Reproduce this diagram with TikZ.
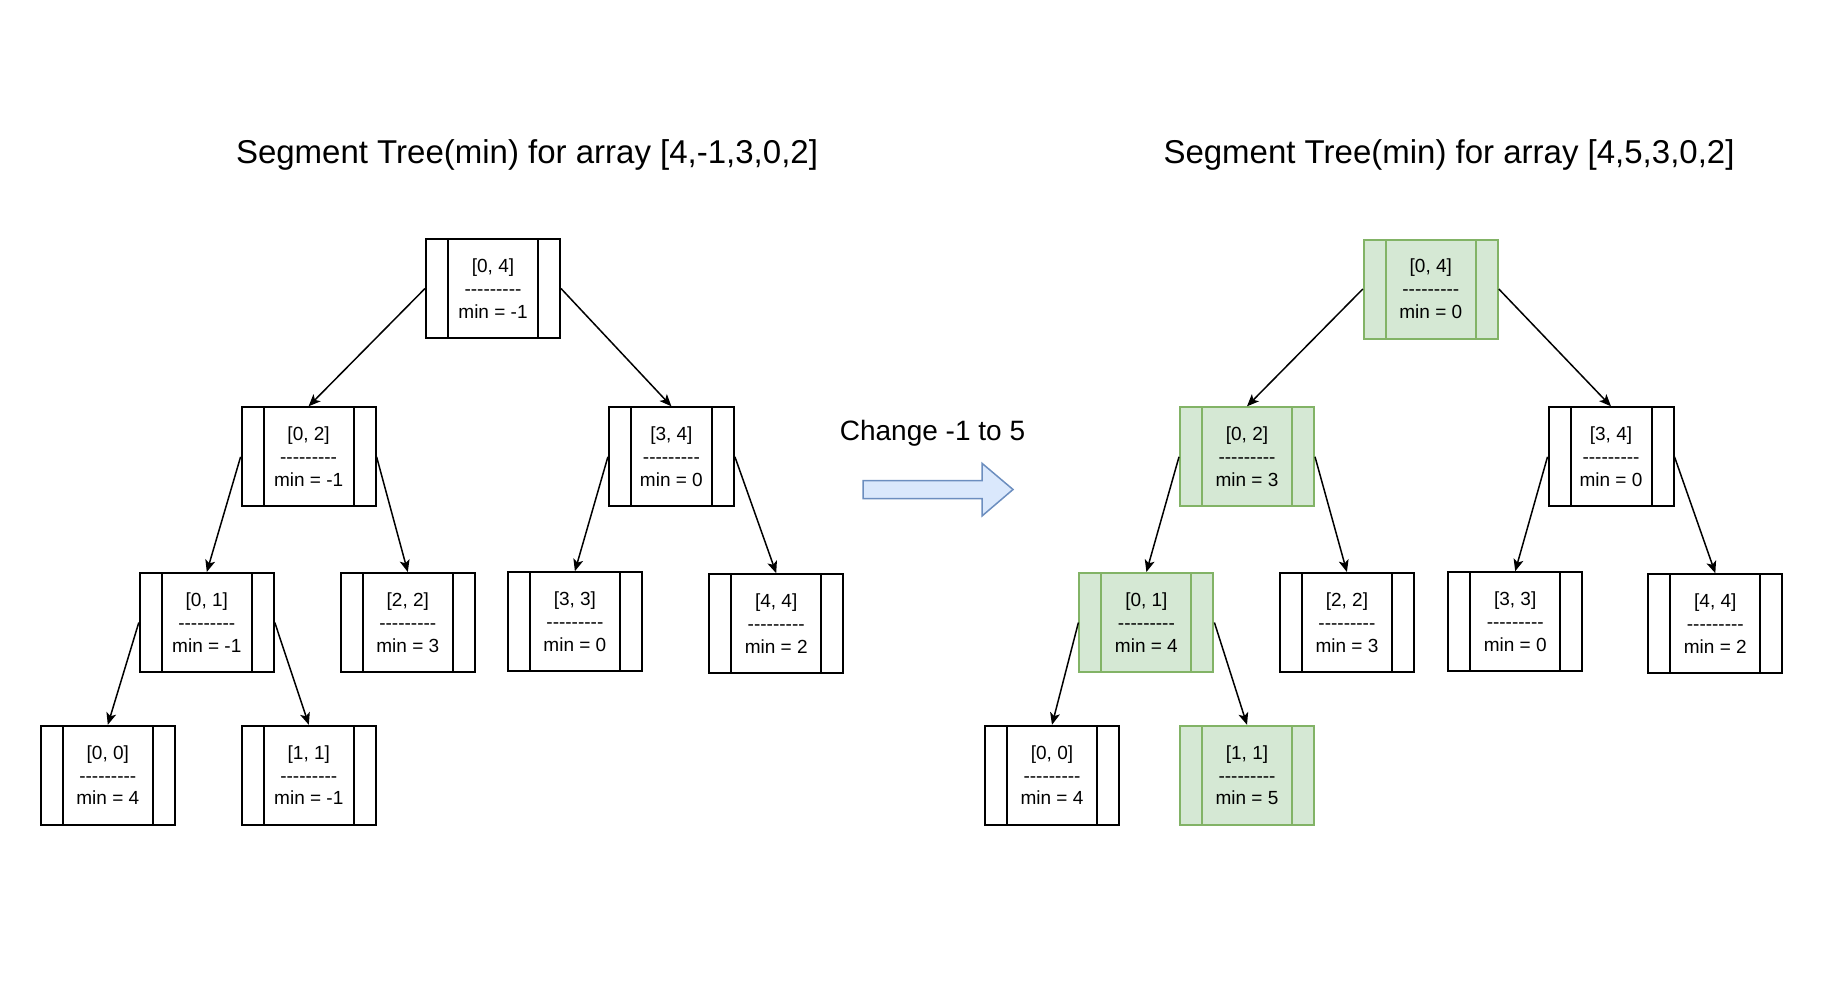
\documentclass[tikz,border=0pt]{standalone}
\usepackage{fontspec}
\setmainfont{Liberation Sans}
\usepackage{tikz}
\usetikzlibrary{arrows.meta}
\definecolor{NodeGreen}{HTML}{D5E8D4}
\definecolor{NodeGreenLine}{HTML}{82B366}
\definecolor{ArrowBlue}{HTML}{DAE8FC}
\definecolor{ArrowBlueLine}{HTML}{6C8EBF}
\newcommand{\segsep}{-\kern0pt-\kern0pt-\kern0pt-\kern0pt-\kern0pt-\kern0pt-\kern0pt-\kern0pt-}
\newcommand{\segtext}[2]{[#1]\\\segsep\\min = #2}
\tikzset{seg line/.store in=\segline, seg line=black}
\tikzset{seg box/.style={draw, line width=2pt, fill=white, inner sep=0pt, minimum height=99pt, minimum width=134pt, align=center, font=\fontsize{19}{22.8}\selectfont,
  path picture={\draw[color=\segline, line width=2pt] ([xshift=22pt]path picture bounding box.north west) -- ([xshift=22pt]path picture bounding box.south west);
    \draw[color=\segline, line width=2pt] ([xshift=-22pt]path picture bounding box.north east) -- ([xshift=-22pt]path picture bounding box.south east);}}}
\tikzset{seg changed/.style={seg box, draw=NodeGreenLine, fill=NodeGreen, seg line=NodeGreenLine}}
\tikzset{seg edge/.style={line width=1.5pt, -{Stealth[length=12pt, width=10pt, inset=3pt]}}}
\tikzset{title text/.style={font=\fontsize{33}{40}\selectfont}}

\begin{document}
\begin{tikzpicture}
\useasboundingbox (0pt,0pt) rectangle (1830pt,-982pt);

\node[title text] (ltitle) at (527pt,-155pt) {Segment Tree(min) for array [4,-1,3,0,2]};
\node[title text] (rtitle) at (1449pt,-155pt) {Segment Tree(min) for array [4,5,3,0,2]};

% before the change
\node[seg box] (l04) at (493pt,-288.5pt) {\segtext{0, 4}{-1}};
\node[seg box] (l02) at (308.6pt,-456.8pt) {\segtext{0, 2}{-1}};
\node[seg box, minimum width=125pt] (l34) at (671.4pt,-456.8pt) {\segtext{3, 4}{0}};
\node[seg box] (l01) at (206.8pt,-622.5pt) {\segtext{0, 1}{-1}};
\node[seg box] (l22) at (407.8pt,-622.5pt) {\segtext{2, 2}{3}};
\node[seg box] (l33) at (574.9pt,-621.7pt) {\segtext{3, 3}{0}};
\node[seg box] (l44) at (776.2pt,-623.7pt) {\segtext{4, 4}{2}};
\node[seg box] (l00) at (107.8pt,-775.3pt) {\segtext{0, 0}{4}};
\node[seg box] (l11) at (308.8pt,-775.3pt) {\segtext{1, 1}{-1}};

\draw[seg edge] (l04.west) -- (l02.north);
\draw[seg edge] (l04.east) -- (l34.north);
\draw[seg edge] (l02.west) -- (l01.north);
\draw[seg edge] (l02.east) -- (l22.north);
\draw[seg edge] (l34.west) -- (l33.north);
\draw[seg edge] (l34.east) -- (l44.north);
\draw[seg edge] (l01.west) -- (l00.north);
\draw[seg edge] (l01.east) -- (l11.north);

% the update
\node[font=\fontsize{28}{34}\selectfont] (change) at (932.5pt,-433pt) {Change -1 to 5};
\draw[line width=1.5pt, draw=ArrowBlueLine, fill=ArrowBlue] (863pt,-480.7pt) -- (982pt,-480.7pt) -- (982pt,-463.3pt) -- (1013pt,-489.5pt) -- (982pt,-516pt) -- (982pt,-498.7pt) -- (863pt,-498.7pt) -- cycle;

% after the change
\node[seg changed] (r04) at (1430.8pt,-289pt) {\segtext{0, 4}{0}};
\node[seg changed] (r02) at (1247pt,-456.8pt) {\segtext{0, 2}{3}};
\node[seg box, minimum width=125pt] (r34) at (1611pt,-456.8pt) {\segtext{3, 4}{0}};
\node[seg changed] (r01) at (1146.4pt,-622.5pt) {\segtext{0, 1}{4}};
\node[seg box] (r22) at (1346.9pt,-622.5pt) {\segtext{2, 2}{3}};
\node[seg box] (r33) at (1515.2pt,-621.7pt) {\segtext{3, 3}{0}};
\node[seg box] (r44) at (1715.3pt,-623.7pt) {\segtext{4, 4}{2}};
\node[seg box] (r00) at (1052pt,-775.3pt) {\segtext{0, 0}{4}};
\node[seg changed] (r11) at (1247pt,-775.3pt) {\segtext{1, 1}{5}};

\draw[seg edge] (r04.west) -- (r02.north);
\draw[seg edge] (r04.east) -- (r34.north);
\draw[seg edge] (r02.west) -- (r01.north);
\draw[seg edge] (r02.east) -- (r22.north);
\draw[seg edge] (r34.west) -- (r33.north);
\draw[seg edge] (r34.east) -- (r44.north);
\draw[seg edge] (r01.west) -- (r00.north);
\draw[seg edge] (r01.east) -- (r11.north);

\end{tikzpicture}
\end{document}
